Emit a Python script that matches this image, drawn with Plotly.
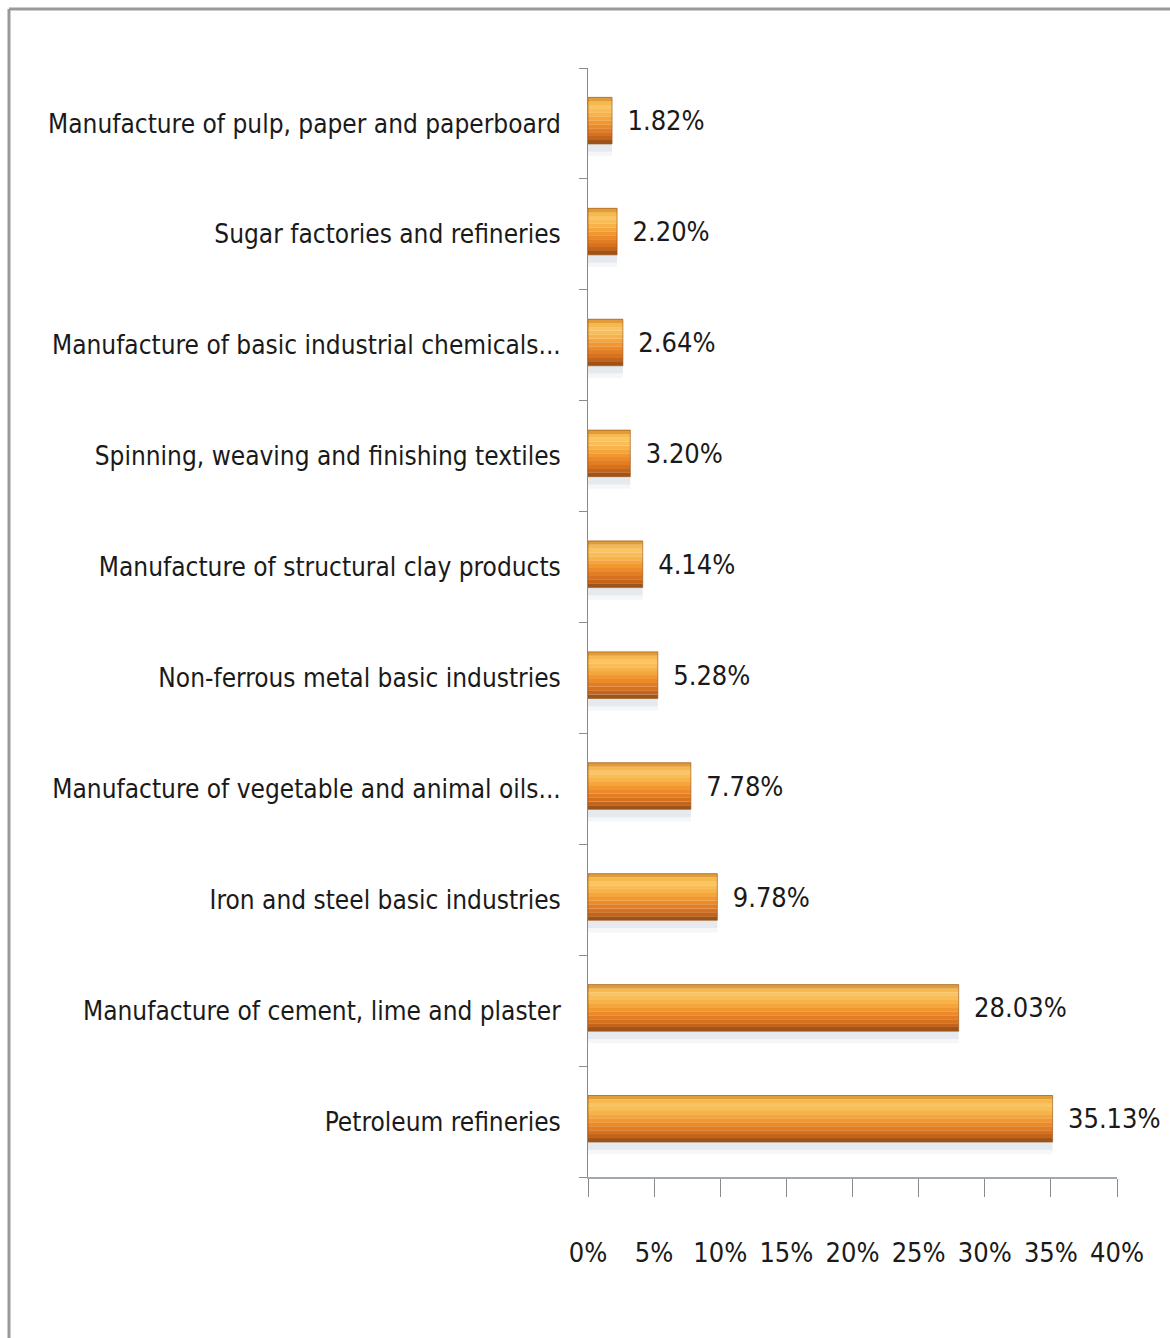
import plotly.graph_objects as go

categories = [
    "Petroleum refineries",
    "Manufacture of cement, lime and plaster",
    "Iron and steel basic industries",
    "Manufacture of vegetable and animal oils...",
    "Non-ferrous metal basic industries",
    "Manufacture of structural clay products",
    "Spinning, weaving and finishing textiles",
    "Manufacture of basic industrial chemicals...",
    "Sugar factories and refineries",
    "Manufacture of pulp, paper and paperboard",
]
values = [35.13, 28.03, 9.78, 7.78, 5.28, 4.14, 3.20, 2.64, 2.20, 1.82]
value_labels = ["35.13%", "28.03%", "9.78%", "7.78%", "5.28%", "4.14%", "3.20%", "2.64%", "2.20%", "1.82%"]
x_ticks = [0, 5, 10, 15, 20, 25, 30, 35, 40]
x_tick_labels = ["0%", "5%", "10%", "15%", "20%", "25%", "30%", "35%", "40%"]

FONT = "DejaVu Sans Condensed, Liberation Sans Narrow, sans-serif"
FS = 26
W, H = 1170, 1338
L, R, T, B = 588, 53, 68, 161
BW = 0.42
SHIFT = 0.025

# gradient bands, bottom to top
band_colors = ["#9E5418", "#C2641C", "#D6711F", "#E27D24", "#EA8A2A", "#F09731",
               "#F4A53C", "#F7B24A", "#F9BD58", "#FAC462", "#F6B851", "#E09C38"]

fig = go.Figure()

# soft shadow beneath bars
fig.add_trace(go.Bar(y=categories, x=values, orientation="h", width=0.07, offset=-BW / 2 + SHIFT - 0.07,
                     marker=dict(color="rgba(165,178,195,0.28)", line=dict(width=0)), hoverinfo="skip"))
fig.add_trace(go.Bar(y=categories, x=values, orientation="h", width=0.04, offset=-BW / 2 + SHIFT - 0.11,
                     marker=dict(color="rgba(185,195,210,0.15)", line=dict(width=0)), hoverinfo="skip"))

nb = len(band_colors)
bh = BW / nb
for i, c in enumerate(band_colors):
    fig.add_trace(go.Bar(y=categories, x=values, orientation="h", width=bh * 1.05,
                         offset=-BW / 2 + SHIFT + i * bh,
                         marker=dict(color=c, line=dict(width=0)), hoverinfo="skip"))

# outline
fig.add_trace(go.Bar(y=categories, x=values, orientation="h", width=BW, offset=-BW / 2 + SHIFT,
                     marker=dict(color="rgba(0,0,0,0)", line=dict(color="rgba(150,80,20,0.6)", width=1)),
                     hoverinfo="skip"))

# value labels
fig.add_trace(go.Scatter(y=categories, x=values, mode="text", text=["  " + t for t in value_labels],
                         textposition="middle right", cliponaxis=False,
                         textfont=dict(family=FONT, size=FS + 1, color="#1a1a1a"), hoverinfo="skip"))

pw = W - L - R
ph = H - T - B
# outer frame (top and left edges)
fig.add_shape(type="line", xref="paper", yref="paper",
              x0=(9 - L) / pw, x1=(W + 5 - L) / pw,
              y0=(H - B - 9) / ph, y1=(H - B - 9) / ph,
              line=dict(color="#9a9a9a", width=3))
fig.add_shape(type="line", xref="paper", yref="paper",
              x0=(9 - L) / pw, x1=(9 - L) / pw,
              y0=(H - B - 9) / ph, y1=(-B - 5) / ph,
              line=dict(color="#9a9a9a", width=3))

fig.update_layout(
    width=W, height=H,
    margin=dict(l=L, r=R, t=T, b=B, autoexpand=False),
    paper_bgcolor="white", plot_bgcolor="white",
    barmode="overlay", showlegend=False,
    font=dict(family=FONT, size=FS, color="#1a1a1a"),
)
fig.update_xaxes(range=[0, 40], tickvals=x_ticks, ticktext=x_tick_labels, tickangle=0, automargin=False,
                 showgrid=False, zeroline=False, showline=True, linecolor="#a0a8b0", linewidth=2,
                 ticks="outside", ticklen=18, tickcolor="#8a8a8a", tickwidth=1,
                 ticklabelstandoff=33, tickfont=dict(family=FONT, size=FS + 1, color="#1a1a1a"))
fig.update_yaxes(type="category", categoryorder="array", categoryarray=categories, automargin=False,
                 range=[-0.5, len(categories) - 0.5],
                 showgrid=False, zeroline=False, showline=True, linecolor="#8a8a8a", linewidth=1,
                 ticks="outside", tickson="boundaries", ticklen=8, tickcolor="#8a8a8a", tickwidth=1,
                 ticklabelstandoff=21, tickfont=dict(family=FONT, size=FS, color="#1a1a1a"))

fig.write_html("out.html")
